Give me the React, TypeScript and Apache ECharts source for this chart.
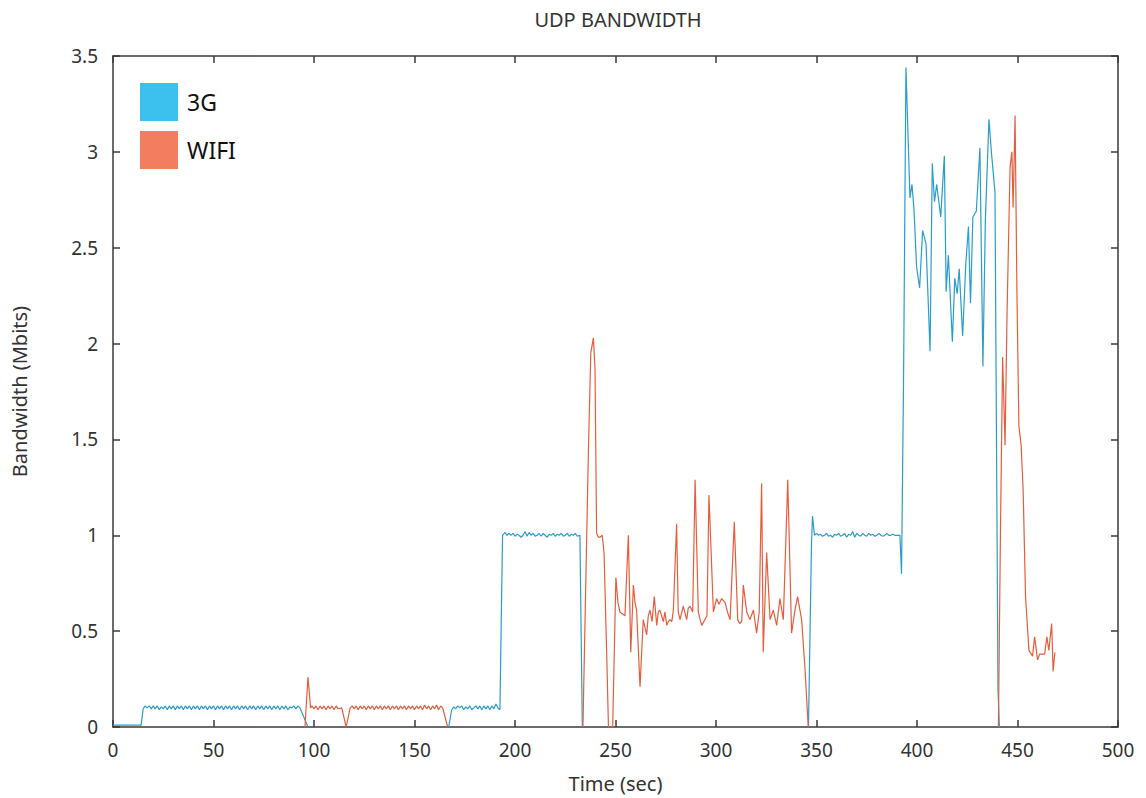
import React, { useEffect, useRef } from "react";
import * as echarts from "echarts";

// ---- Data (time in sec, bandwidth in Mbits) ----
const xTicks = [0, 50, 100, 150, 200, 250, 300, 350, 400, 450, 500];
const yTicks = [0, 0.5, 1, 1.5, 2, 2.5, 3, 3.5];

const g3Seg1: [number, number][] = [
  [0, 0.01], [14, 0.01], [15, 0.095], [16, 0.11], [17, 0.1], [18, 0.11], [19, 0.095], [20, 0.11], [21, 0.095],
  [22, 0.11], [23, 0.09], [24, 0.105], [25, 0.095], [26, 0.11], [27, 0.09], [28, 0.11], [29, 0.095], [30, 0.11],
  [31, 0.09], [32, 0.11], [33, 0.095], [34, 0.11], [35, 0.09], [36, 0.11], [37, 0.095], [38, 0.11], [39, 0.09],
  [40, 0.11], [41, 0.095], [42, 0.11], [43, 0.09], [44, 0.11], [45, 0.095], [46, 0.11], [47, 0.09], [48, 0.11],
  [49, 0.095], [50, 0.11], [51, 0.09], [52, 0.11], [53, 0.095], [54, 0.11], [55, 0.09], [56, 0.11], [57, 0.095],
  [58, 0.11], [59, 0.09], [60, 0.11], [61, 0.095], [62, 0.11], [63, 0.09], [64, 0.11], [65, 0.095], [66, 0.11],
  [67, 0.09], [68, 0.11], [69, 0.095], [70, 0.11], [71, 0.09], [72, 0.11], [73, 0.095], [74, 0.11], [75, 0.09],
  [76, 0.11], [77, 0.095], [78, 0.11], [79, 0.09], [80, 0.11], [81, 0.095], [82, 0.11], [83, 0.09], [84, 0.11],
  [85, 0.095], [86, 0.11], [87, 0.09], [88, 0.105], [89, 0.1], [90, 0.11], [91, 0.095], [92, 0.11], [93, 0.1],
  [97, 0],
];

const g3Seg2: [number, number][] = [
  [167, 0], [168.5, 0.09], [169.5, 0.105], [170.5, 0.095], [171.5, 0.11], [172.5, 0.1], [173.5, 0.11],
  [174.5, 0.09], [175.5, 0.105], [176.5, 0.095], [177.5, 0.11], [178.5, 0.09], [179.5, 0.1], [180.5, 0.11],
  [181.5, 0.095], [182.5, 0.11], [183.5, 0.09], [184.5, 0.11], [185.5, 0.095], [186.5, 0.11], [187.5, 0.09],
  [188.5, 0.11], [189.5, 0.095], [190.5, 0.12], [191.5, 0.1], [192.5, 0.09], [193.8, 1.0], [195, 1.015],
  [196, 1.0], [197, 1.01], [198, 1.0], [199, 1.01], [200, 0.995], [201, 1.005], [202, 1.0], [203, 0.99],
  [204, 1.0], [205, 1.02], [206, 0.995], [207, 1.015], [208, 1.0], [209, 1.01], [210, 0.995], [211, 1.0],
  [212, 1.01], [213, 0.995], [214, 1.01], [215, 1.0], [216, 0.99], [217, 1.005], [218, 1.0], [219, 1.01],
  [220, 0.995], [221, 1.005], [222, 1.0], [223, 1.01], [224, 0.995], [225, 1.0], [226, 1.01], [227, 0.995],
  [228, 1.005], [229, 1.0], [230, 1.01], [231, 0.995], [232.3, 1.0], [233.5, 0],
];

const g3Seg3: [number, number][] = [
  [346, 0], [347.5, 0.95], [348, 1.1], [349, 1.0], [350, 1.01], [351, 1.0], [352, 1.005], [353, 0.995],
  [354, 1.0], [355, 1.01], [356, 0.995], [357, 1.0], [358, 0.99], [359, 1.005], [360, 1.0], [361, 1.01],
  [362, 0.995], [363, 1.0], [364, 1.01], [365, 0.99], [366, 1.005], [367, 1.0], [368, 1.02], [369, 0.99],
  [370, 1.01], [371, 1.0], [372, 0.995], [373, 1.01], [374, 1.0], [375, 0.995], [376, 1.01], [377, 1.0],
  [378, 1.005], [379, 0.995], [380, 1.0], [381, 1.01], [382, 1.0], [383, 0.995], [384, 1.0], [385, 1.01],
  [386, 1.0], [387, 1.0], [388, 1.005], [389, 1.0], [390, 1.0], [391.5, 1.0], [392.3, 0.8], [393.3, 1.8],
  [394.5, 3.44], [396.5, 2.76], [397.5, 2.83], [398.5, 2.7], [399.8, 2.4], [401.3, 2.29], [402.8, 2.59],
  [404.5, 2.52], [406.5, 1.96], [407.6, 2.94], [408.7, 2.74], [409.8, 2.83], [411.8, 2.66], [413.6, 2.98],
  [414.5, 2.27], [415.6, 2.46], [417.6, 2.01], [418.8, 2.34], [420, 2.26], [421, 2.39], [422.7, 2.04],
  [424.3, 2.42], [425.6, 2.61], [426.6, 2.21], [427.8, 2.66], [429.5, 2.69], [431.3, 3.02], [432.8, 1.88],
  [434, 2.64], [435.8, 3.17], [437, 3.0], [438.8, 2.79], [440.3, 0.2], [441, 0],
];

const wifiSeg1: [number, number][] = [
  [95.5, 0], [97, 0.26], [98.3, 0.1], [99, 0.11], [100, 0.095], [101, 0.11], [102, 0.09], [103, 0.11],
  [104, 0.095], [105, 0.11], [106, 0.09], [107, 0.11], [108, 0.095], [109, 0.11], [110, 0.09], [111, 0.11],
  [112, 0.095], [113.8, 0.1], [116, 0], [118, 0.1], [119, 0.11], [120, 0.095], [121, 0.11], [122, 0.09],
  [123, 0.11], [124, 0.095], [125, 0.11], [126, 0.09], [127, 0.11], [128, 0.095], [129, 0.11], [130, 0.09],
  [131, 0.11], [132, 0.095], [133, 0.11], [134, 0.09], [135, 0.11], [136, 0.095], [137, 0.11], [138, 0.09],
  [139, 0.11], [140, 0.095], [141, 0.11], [142, 0.09], [143, 0.11], [144, 0.095], [145, 0.11], [146, 0.09],
  [147, 0.11], [148, 0.095], [149, 0.11], [150, 0.09], [151, 0.11], [152, 0.095], [153, 0.11], [154, 0.09],
  [155, 0.115], [156, 0.095], [157, 0.11], [158, 0.09], [159, 0.11], [160, 0.095], [161, 0.115], [162, 0.09],
  [163, 0.11], [164, 0.1], [166.5, 0],
];

const wifiSeg2: [number, number][] = [
  [233.8, 0], [236.5, 1.43], [237.7, 1.95], [239, 2.03], [239.8, 1.87], [240.6, 1.01], [241.5, 0.99],
  [242.3, 0.99], [243.4, 1.0], [244.3, 0.91], [245.6, 0.39], [246.5, 0], [248.6, 0], [250.2, 0.78],
  [251.2, 0.65], [252.2, 0.6], [254.7, 0.58], [256.4, 1.0], [257.6, 0.39], [258.9, 0.74], [259.7, 0.65],
  [260.5, 0.61], [262.2, 0.21], [263.8, 0.56], [265.5, 0.48], [266.3, 0.58], [267.2, 0.61], [268.2, 0.55],
  [269.3, 0.68], [270.5, 0.53], [271.3, 0.6], [272.1, 0.61], [273.8, 0.55], [274.6, 0.6], [275.5, 0.53],
  [276.3, 0.55], [277.1, 0.56], [278, 0.55], [278.8, 0.61], [280.4, 1.06], [281.2, 0.6], [282.1, 0.56],
  [283.7, 0.63], [285.4, 0.56], [286.2, 0.62], [287.1, 0.63], [288.4, 0.6], [289.6, 1.29], [291.2, 0.6],
  [292.1, 0.56], [292.9, 0.53], [294.5, 0.56], [295.5, 0.58], [296.5, 1.21], [298.7, 0.6], [300.3, 0.67],
  [301.5, 0.64], [302.8, 0.67], [304.5, 0.65], [305.7, 0.6], [307, 0.56], [309.1, 1.07], [310.8, 0.56],
  [311.8, 0.54], [312.8, 0.55], [313.6, 0.74], [315.3, 0.6], [316.9, 0.56], [318.6, 0.61], [320.2, 0.49],
  [321.5, 0.6], [322.7, 1.27], [323.5, 0.39], [325.2, 0.91], [326.9, 0.56], [328.5, 0.61], [330.2, 0.53],
  [331.8, 0.67], [333.5, 0.56], [335.7, 1.29], [337.6, 0.49], [339.3, 0.61], [340.6, 0.68], [342.6, 0.56],
  [344.3, 0.3], [345.9, 0],
];

const wifiSeg3: [number, number][] = [
  [440.5, 0], [441.5, 1.0], [442.6, 1.93], [443.8, 1.47], [444.8, 2.16], [446.3, 2.92], [447.2, 3.0],
  [447.8, 2.71], [448.8, 3.19], [449.7, 2.28], [450.7, 1.57], [451.8, 1.47], [452.8, 1.24], [454, 0.68],
  [455.7, 0.4], [457.5, 0.37], [458.5, 0.47], [460, 0.35], [461, 0.38], [463.5, 0.38], [464.6, 0.47],
  [465.6, 0.4], [467, 0.54], [467.7, 0.29], [468.6, 0.39],
];

const g3Segments = [g3Seg1, g3Seg2, g3Seg3];
const wifiSegments = [wifiSeg1, wifiSeg2, wifiSeg3];

const G3_LINE = "#2a9dcc";
const WIFI_LINE = "#e55d3d";
const G3_BOX = "#3cc0ee";
const WIFI_BOX = "#f27e5f";
const FONT = "Noto Sans";

export default function App() {
  const ref = useRef<HTMLDivElement>(null);

  useEffect(() => {
    if (!ref.current) return;
    const chart = echarts.init(ref.current, undefined, { renderer: "svg" });

    const axisLine = { show: true, onZero: false, lineStyle: { color: "#3a3a3a", width: 1.5 } };
    const axisTick = { show: true, inside: true, length: 7, lineStyle: { color: "#3a3a3a", width: 1.5 } };
    const label = { color: "#333", fontSize: 19, fontFamily: FONT };
    const nameStyle = { color: "#333", fontSize: 20, fontFamily: FONT };

    const mkSeries = (name: string, color: string, segs: [number, number][][]) =>
      segs.map((d) => ({
        name,
        type: "line",
        data: d,
        showSymbol: false,
        symbol: "none",
        lineStyle: { color, width: 1.2 },
        itemStyle: { color },
        xAxisIndex: 0,
        yAxisIndex: 0,
        z: 3,
      }));

    chart.setOption({
      animation: false,
      backgroundColor: "#ffffff",
      title: {
        text: "UDP BANDWIDTH",
        left: 613,
        top: 4,
        textAlign: "center",
        textStyle: { fontSize: 20, fontWeight: "normal", color: "#333", fontFamily: FONT },
      },
      legend: {
        orient: "vertical",
        left: 135,
        top: 78,
        icon: "rect",
        itemWidth: 38,
        itemHeight: 38,
        itemGap: 10,
        data: [
          { name: "3G", itemStyle: { color: G3_BOX } },
          { name: "WIFI", itemStyle: { color: WIFI_BOX } },
        ],
        textStyle: { fontSize: 23, color: "#111", fontFamily: FONT, padding: [0, 0, 0, 4] },
      },
      grid: { left: 113, right: 28, top: 56, bottom: 70, containLabel: false },
      xAxis: [
        {
          type: "value",
          min: xTicks[0],
          max: xTicks[xTicks.length - 1],
          interval: 50,
          position: "bottom",
          axisLine,
          axisTick,
          splitLine: { show: false },
          axisLabel: { ...label, margin: 13 },
          name: "Time (sec)",
          nameLocation: "middle",
          nameGap: 46,
          nameTextStyle: nameStyle,
        },
        {
          type: "value",
          min: xTicks[0],
          max: xTicks[xTicks.length - 1],
          interval: 50,
          position: "top",
          axisLine,
          axisTick,
          splitLine: { show: false },
          axisLabel: { show: false },
        },
      ],
      yAxis: [
        {
          type: "value",
          min: yTicks[0],
          max: yTicks[yTicks.length - 1],
          interval: 0.5,
          position: "left",
          axisLine,
          axisTick,
          splitLine: { show: false },
          axisLabel: { ...label, margin: 15 },
          name: "Bandwidth (Mbits)",
          nameLocation: "middle",
          nameGap: 84,
          nameTextStyle: nameStyle,
        },
        {
          type: "value",
          min: yTicks[0],
          max: yTicks[yTicks.length - 1],
          interval: 0.5,
          position: "right",
          axisLine,
          axisTick,
          splitLine: { show: false },
          axisLabel: { show: false },
        },
      ],
      series: [...mkSeries("3G", G3_LINE, g3Segments), ...mkSeries("WIFI", WIFI_LINE, wifiSegments)],
    });

    return () => chart.dispose();
  }, []);

  return (
    <div
      ref={ref}
      style={{ position: "fixed", left: 0, top: 0, width: 1146, height: 798, background: "#fff" }}
    />
  );
}
